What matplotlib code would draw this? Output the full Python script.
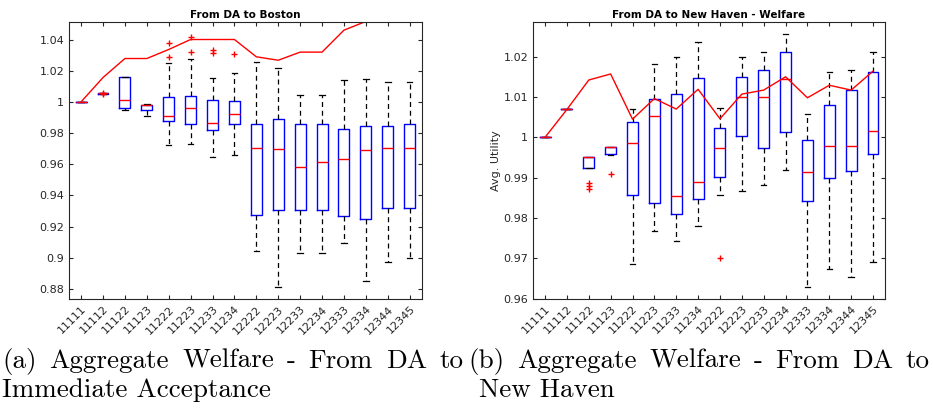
import matplotlib.pyplot as plt

cats = ['11111', '11112', '11122', '11123', '11222', '11223', '11233', '11234',
        '12222', '12223', '12233', '12234', '12333', '12334', '12344', '12345']

# panel (a): DA -> Boston
a_q1 = [1.0, 1.0053, 0.9961, 0.9946, 0.9874, 0.9861, 0.9818, 0.9855,
        0.9273, 0.9309, 0.9303, 0.9303, 0.9268, 0.9251, 0.9316, 0.9316]
a_med = [1.0, 1.0055, 1.0010, 0.9977, 0.9912, 0.9961, 0.9867, 0.9919,
         0.9707, 0.9696, 0.9581, 0.9611, 0.9632, 0.9692, 0.9707, 0.9707]
a_q3 = [1.0, 1.0057, 1.0160, 0.9979, 1.0028, 1.0039, 1.0011, 1.0004,
        0.9861, 0.9887, 0.9859, 0.9859, 0.9825, 0.9842, 0.9842, 0.9859]
a_lo = [1.0, 1.0053, 0.9947, 0.9910, 0.9726, 0.9730, 0.9647, 0.9662,
        0.9042, 0.8813, 0.9031, 0.9031, 0.9095, 0.8853, 0.8971, 0.8999]
a_hi = [1.0, 1.0057, 1.0160, 0.9988, 1.0252, 1.0276, 1.0154, 1.0186,
        1.0257, 1.0218, 1.0045, 1.0045, 1.0139, 1.0148, 1.0128, 1.0128]
a_fl = [[], [1.0058, 1.0052], [], [], [1.0379, 1.0289], [1.0417, 1.0317],
        [1.0332, 1.0314], [1.0306], [], [], [], [], [], [], [], []]
a_line = [1.0, 1.0156, 1.0278, 1.0278, 1.0336, 1.0400, 1.0400, 1.0400,
          1.0289, 1.0267, 1.0319, 1.0319, 1.0460, 1.0516, 1.0516, 1.0516]

# panel (b): DA -> New Haven
b_q1 = [1.0, 1.0069, 0.9925, 0.9959, 0.9857, 0.9836, 0.9810, 0.9847,
        0.9901, 1.0004, 0.9974, 1.0013, 0.9842, 0.9900, 0.9917, 0.9958]
b_med = [1.0, 1.0069, 0.9952, 0.9977, 0.9986, 1.0053, 0.9855, 0.9890,
         0.9973, 1.0100, 1.0100, 1.0144, 0.9913, 0.9978, 0.9978, 1.0015]
b_q3 = [1.0, 1.0069, 0.9952, 0.9977, 1.0037, 1.0095, 1.0107, 1.0146,
        1.0022, 1.0149, 1.0168, 1.0212, 0.9993, 1.0080, 1.0118, 1.0163]
b_lo = [1.0, 1.0069, 0.9925, 0.9955, 0.9686, 0.9767, 0.9744, 0.9779,
        0.9857, 0.9866, 0.9881, 0.9920, 0.9629, 0.9674, 0.9655, 0.9691]
b_hi = [1.0, 1.0069, 0.9952, 0.9977, 1.0071, 1.0181, 1.0198, 1.0237,
        1.0072, 1.0200, 1.0212, 1.0257, 1.0059, 1.0163, 1.0168, 1.0212]
b_fl = [[], [], [0.9888, 0.9880, 0.9872], [0.9910], [], [], [], [],
        [0.9702], [], [], [], [], [], [], []]
b_line = [1.0, 1.0069, 1.0142, 1.0157, 1.0045, 1.0096, 1.0070, 1.0119,
          1.0046, 1.0107, 1.0117, 1.0150, 1.0098, 1.0129, 1.0117, 1.0164]

gray = '#262626'


def panel(ax, q1, med, q3, lo, hi, fl, line, title, ylim, yticks):
    stats = []
    for i in range(len(cats)):
        stats.append(dict(q1=q1[i], med=med[i], q3=q3[i], whislo=lo[i],
                          whishi=hi[i], fliers=fl[i]))
    pos = list(range(1, len(cats) + 1))
    ax.bxp(stats, positions=pos, widths=0.5, capwidths=0.25,
           boxprops=dict(color='blue', linewidth=1),
           whiskerprops=dict(color='black', linestyle=(0, (4, 3)), linewidth=0.9),
           capprops=dict(color='black', linewidth=0.9),
           medianprops=dict(color='red', linewidth=1),
           flierprops=dict(marker='+', markeredgecolor='red', markersize=5,
                           linestyle='none'))
    ax.plot(pos, line, color='red', linewidth=1)
    ax.set_xlim(0.45, 16.55)
    ax.set_ylim(*ylim)
    ax.set_xticks(pos)
    ax.set_xticklabels(cats, rotation=45, ha='right', rotation_mode='anchor',
                       fontsize=8, color=gray)
    ax.set_yticks(yticks)
    ax.set_yticklabels([f'{v:g}' for v in yticks], fontsize=8, color=gray)
    ax.tick_params(direction='in', top=True, right=True, length=3,
                   color=gray, width=0.8)
    for s in ax.spines.values():
        s.set_color(gray)
        s.set_linewidth(0.8)
    ax.set_title(title, fontsize=7.5, fontweight='bold', pad=3)


fig = plt.figure(figsize=(9.33, 4.15), dpi=100)
ax1 = fig.add_axes([0.074, 0.2795, 0.378, 0.667])
ax2 = fig.add_axes([0.5713, 0.2802, 0.3773, 0.667])

panel(ax1, a_q1, a_med, a_q3, a_lo, a_hi, a_fl, a_line, 'From DA to Boston',
      (0.8735, 1.0511), [0.88, 0.90, 0.92, 0.94, 0.96, 0.98, 1.0, 1.02, 1.04])
panel(ax2, b_q1, b_med, b_q3, b_lo, b_hi, b_fl, b_line,
      'From DA to New Haven - Welfare', (0.96, 1.0286),
      [0.96, 0.97, 0.98, 0.99, 1.0, 1.01, 1.02])
ax2.set_ylabel('Avg. Utility', fontsize=8, color=gray, labelpad=2)

# captions, first line justified like the LaTeX subcaption
W, H = 933, 415
cap = dict(fontsize=19.5, family='cmr10', color='black', va='baseline')
renderer = fig.canvas.get_renderer()


def justified(line, x0, x1, y):
    words = line.split()
    texts = [fig.text(0, 1 - y / H, w, **cap) for w in words]
    widths = [t.get_window_extent(renderer).width for t in texts]
    gap = (x1 - x0 - sum(widths)) / (len(words) - 1)
    x = x0
    for t, w in zip(texts, widths):
        t.set_x(x / W)
        x += w + gap


justified('(a) Aggregate Welfare - From DA to', 2, 464, 368)
fig.text(2 / W, 1 - 397 / H, 'Immediate Acceptance', **cap)
justified('(b) Aggregate Welfare - From DA to', 468, 930, 368)
fig.text(479 / W, 1 - 397 / H, 'New Haven', **cap)

fig.savefig('out.png', dpi=100)
